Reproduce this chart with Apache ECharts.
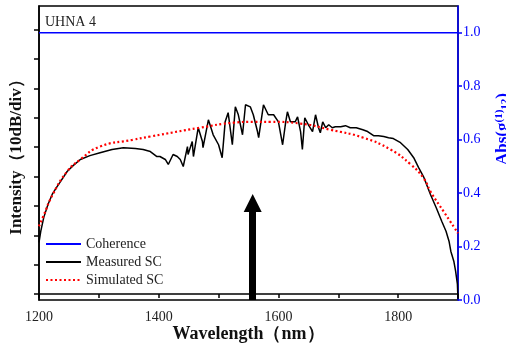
<!DOCTYPE html>
<html>
<head>
<meta charset="utf-8">
<script src="https://cdn.jsdelivr.net/npm/echarts@6/dist/echarts.min.js"></script>
<style>
  html, body { margin: 0; padding: 0; background: #fff; }
  #chart { width: 506px; height: 345px; }
</style>
</head>
<body>
<div id="chart"></div>
<script>
// 波长 (nm)
const measuredWl = [1200, 1203, 1208, 1215, 1222, 1228, 1235, 1247, 1257, 1269, 1285, 1302, 1322, 1341, 1361, 1374,
  1386, 1397, 1402, 1411, 1416, 1424, 1431, 1436, 1441, 1448, 1449, 1456, 1458, 1466, 1473, 1474, 1483, 1491,
  1500, 1506, 1511, 1516, 1523, 1528, 1533, 1540, 1545, 1553, 1558, 1565, 1567, 1575, 1583, 1592, 1600, 1607,
  1612, 1615, 1620, 1628, 1632, 1637, 1640, 1644, 1650, 1657, 1662, 1667, 1670, 1674, 1679, 1684, 1690, 1695,
  1704, 1712, 1720, 1730, 1741, 1749, 1759, 1767, 1776, 1784, 1792, 1804, 1816, 1826, 1834, 1843, 1854, 1864,
  1873, 1880, 1885, 1888, 1893, 1896, 1899, 1900]
// 测量光谱 (dB)
const measuredDb = [17.6, 21.4, 26.1, 30.5, 33.9, 35.9, 38.0, 41.7, 43.7, 45.8, 47.1, 48.1, 49.2, 49.8, 49.5, 49.2,
  48.5, 46.8, 46.8, 45.8, 44.1, 47.5, 46.8, 45.8, 43.4, 50.2, 47.5, 51.9, 46.8, 56.6, 51.9, 49.8, 59.3, 54.2,
  50.8, 46.4, 58.6, 61.7, 50.8, 63.7, 61.0, 54.2, 64.4, 63.7, 61.0, 55.3, 53.2, 64.4, 61.0, 61.0, 58.6, 50.8,
  58.3, 62.0, 58.6, 58.6, 60.3, 55.3, 49.2, 60.0, 57.6, 55.3, 61.0, 56.6, 54.9, 58.6, 56.6, 57.6, 56.6, 56.9,
  56.9, 57.3, 56.6, 56.6, 55.9, 55.3, 53.9, 53.9, 53.6, 53.2, 52.9, 51.5, 49.2, 46.4, 43.1, 39.7, 33.9, 29.2,
  24.7, 21.4, 18.0, 14.6, 11.2, 7.8, 3.4, -1.7]
// 模拟光谱
const simulatedWl = [1200, 1207, 1223, 1247, 1269, 1302, 1357, 1386, 1469, 1525, 1558, 1587, 1637, 1687, 1742,
  1787, 1821, 1843, 1854, 1876, 1900]
const simulatedDb = [23.1, 26.4, 33.9, 41.7, 45.8, 50.2, 52.5, 53.6, 56.6, 58.3, 58.6, 58.6, 58.0, 55.9, 53.2,
  49.2, 44.1, 39.3, 34.9, 28.1, 20.7]
// 相干度
const coherenceWl = [1200, 1900]
const coherenceVal = [1.0, 1.0]
// 刻度
const intensityTicks = [0, 10, 20, 30, 40, 50, 60, 70, 80, 90]
const coherenceTicks = [0, 0.2, 0.4, 0.6, 0.8, 1.0]
// 箭头位置
const arrowWl = 1557
const arrowFrom = -2
const arrowTo = 31

const zip = (xs, ys) => xs.map((x, i) => [x, ys[i]])
const serif = 'Liberation Serif'

const myChart = echarts.init(document.getElementById('chart'))
const option = {
  animation: false,
  backgroundColor: '#fff',
  title: {
    text: 'UHNA 4',
    left: 40,
    top: 10,
    textStyle: { fontFamily: serif, fontSize: 14, fontWeight: 'normal', color: '#222' }
  },
  legend: {
    orient: 'vertical',
    left: 40,
    top: 232,
    itemWidth: 35,
    itemHeight: 14,
    itemGap: 4,
    itemStyle: { opacity: 0 }, // 不显示圆点
    textStyle: { fontFamily: serif, fontSize: 14, color: '#222' },
    data: ['Coherence', 'Measured SC', 'Simulated SC']
  },
  grid: {
    left: 39,
    right: 48,
    top: 6,
    bottom: 45,
    outerBoundsMode: 'none',
    show: true,
    borderColor: '#000',
    borderWidth: 1.5
  },
  xAxis: {
    type: 'value',
    min: 1200,
    max: 1900,
    interval: 100,
    name: 'Wavelength（nm）',
    nameLocation: 'middle',
    nameGap: 25,
    nameMoveOverlap: false,
    nameTextStyle: { fontFamily: serif, fontSize: 18, fontWeight: 'bold', color: '#111' },
    axisLine: { lineStyle: { color: '#000', width: 1.5 } },
    axisTick: { length: 4, lineStyle: { color: '#000', width: 1.5 } },
    axisLabel: {
      margin: 10,
      fontFamily: serif,
      fontSize: 14,
      color: '#222',
      formatter: v => (v % 200 === 0 ? String(v) : '')
    },
    splitLine: { show: false }
  },
  yAxis: [
    {
      type: 'value',
      min: -2,
      max: 98,
      name: 'Intensity（10dB/div）',
      nameLocation: 'middle',
      nameGap: 14,
      nameMoveOverlap: false,
      nameTextStyle: { fontFamily: serif, fontSize: 17, fontWeight: 'bold', color: '#111' },
      axisLine: { show: true, lineStyle: { color: '#000', width: 1.5 } },
      axisTick: { show: true, length: 5, customValues: intensityTicks, lineStyle: { color: '#000', width: 1.5 } },
      axisLabel: { show: false },
      splitLine: { show: false }
    },
    {
      type: 'value',
      position: 'right',
      min: 0,
      max: 1.1,
      name: 'Abs(g{sup|(1)}{sub|12})',
      nameLocation: 'middle',
      nameGap: 36,
      nameMoveOverlap: false,
      nameTextStyle: {
        fontFamily: serif,
        fontSize: 17,
        fontWeight: 'bold',
        color: '#0000ff',
        padding: [0, 0, 0, 48],
        rich: {
          sup: { fontFamily: serif, fontSize: 11, fontWeight: 'bold', color: '#0000ff', verticalAlign: 'top' },
          sub: { fontFamily: serif, fontSize: 11, fontWeight: 'bold', color: '#0000ff', verticalAlign: 'bottom' }
        }
      },
      axisLine: { show: true, lineStyle: { color: '#0000ff', width: 1.5 } },
      axisTick: { show: true, length: 4, customValues: coherenceTicks, lineStyle: { color: '#0000ff', width: 1.5 } },
      axisLabel: {
        margin: 5,
        fontFamily: serif,
        fontSize: 14,
        color: '#0000ff',
        customValues: coherenceTicks,
        formatter: v => v.toFixed(1)
      },
      splitLine: { show: false }
    }
  ],
  series: [
    {
      name: 'Coherence',
      type: 'line',
      yAxisIndex: 1,
      symbol: 'none',
      lineStyle: { color: '#0000ff', width: 1.5 },
      itemStyle: { color: '#0000ff' },
      data: zip(coherenceWl, coherenceVal)
    },
    {
      name: 'Measured SC',
      type: 'line',
      yAxisIndex: 0,
      symbol: 'none',
      lineStyle: { color: '#000', width: 1.5 },
      itemStyle: { color: '#000' },
      data: zip(measuredWl, measuredDb),
      // 箭头
      markLine: {
        silent: true,
        symbol: ['none', 'triangle'],
        symbolSize: [18, 18],
        label: { show: false },
        lineStyle: { color: '#000', width: 7, type: 'solid' },
        data: [[{ coord: [arrowWl, arrowFrom] }, { coord: [arrowWl, arrowTo] }]]
      }
    },
    {
      name: 'Simulated SC',
      type: 'line',
      yAxisIndex: 0,
      symbol: 'none',
      smooth: true,
      lineStyle: { color: '#ff0000', width: 2.2, type: [2, 2.5] },
      itemStyle: { color: '#ff0000' },
      data: zip(simulatedWl, simulatedDb)
    }
  ]
}
myChart.setOption(option)
</script>
</body>
</html>
